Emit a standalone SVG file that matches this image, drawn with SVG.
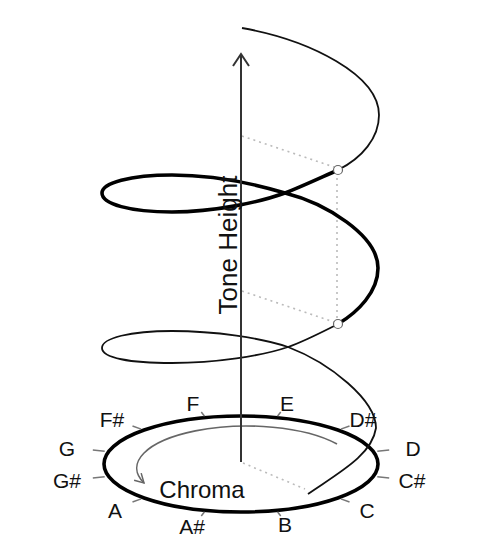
<svg xmlns="http://www.w3.org/2000/svg" width="480" height="560" viewBox="0 0 480 560">
<defs>
<style>
.lbl{font-family:"Liberation Sans",Arial,sans-serif;font-size:21px;fill:#111;text-anchor:middle}
.tick{stroke:#777;stroke-width:1.5;fill:none}
.dot{stroke:#bbb;stroke-width:1.6;stroke-dasharray:2 4;fill:none}
.thin{stroke:#111;stroke-width:1.8;fill:none}
.thick{stroke:#000;stroke-width:3.6;fill:none}
.mark{stroke:#666;stroke-width:1.2;fill:#fff}
</style>
<marker id="gh" viewBox="0 0 12 12" refX="10" refY="6" markerWidth="12" markerHeight="12" markerUnits="userSpaceOnUse" orient="auto">
<path d="M1,1 L10,6 L1,11" fill="none" stroke="#666" stroke-width="1.5"/>
</marker>
</defs>
<rect width="480" height="560" fill="#fff"/>
<g id="guides">
<line class="dot" x1="242" y1="136" x2="337" y2="168"/>
<line class="dot" x1="242" y1="291" x2="337" y2="323"/>
<line class="dot" x1="337" y1="172" x2="337" y2="320"/>
<line class="dot" x1="243" y1="463" x2="305" y2="489"/>
</g>
<g id="chroma-circle">
<ellipse cx="241" cy="464" rx="137" ry="48" fill="none" stroke="#000" stroke-width="3.6"/>
<path d="M337,444 A110,42 0 0 0 144,483" fill="none" stroke="#666" stroke-width="1.6" marker-end="url(#gh)"/>
<text class="lbl" x="202" y="498" style="font-size:24px">Chroma</text>
</g>
<g id="ticks">
<line class="tick" x1="377.3" y1="451.2" x2="389.2" y2="450.1"/>
<line class="tick" x1="377.3" y1="476.8" x2="389.2" y2="477.9"/>
<line class="tick" x1="340.8" y1="498.9" x2="349.5" y2="502"/>
<line class="tick" x1="277.5" y1="511.7" x2="280.7" y2="516"/>
<line class="tick" x1="204.5" y1="511.7" x2="201.3" y2="516"/>
<line class="tick" x1="141.2" y1="498.9" x2="132.5" y2="502"/>
<line class="tick" x1="104.7" y1="476.8" x2="92.8" y2="477.9"/>
<line class="tick" x1="104.7" y1="451.2" x2="92.8" y2="450.1"/>
<line class="tick" x1="141.2" y1="429.1" x2="132.5" y2="426"/>
<line class="tick" x1="204.5" y1="416.3" x2="201.3" y2="412"/>
<line class="tick" x1="277.5" y1="416.3" x2="280.7" y2="412"/>
<line class="tick" x1="340.8" y1="429.1" x2="349.5" y2="426"/>
</g>
<g id="labels">
<text class="lbl" x="413" y="456">D</text>
<text class="lbl" x="412" y="488">C#</text>
<text class="lbl" x="367" y="518">C</text>
<text class="lbl" x="285" y="532">B</text>
<text class="lbl" x="192" y="534">A#</text>
<text class="lbl" x="115" y="518">A</text>
<text class="lbl" x="67" y="488">G#</text>
<text class="lbl" x="67" y="456">G</text>
<text class="lbl" x="112" y="427">F#</text>
<text class="lbl" x="193" y="411">F</text>
<text class="lbl" x="287" y="411">E</text>
<text class="lbl" x="363" y="427">D#</text>
</g>
<g id="helix">
<path class="thin" d="M308,494 C340,472 372,455 376,428 C376,400 330,363 288,347 C262,338 215,331 172,331 C130,331 102,338 102,348 C102,358 130,363 172,363 C215,363 262,356 288,347 C305,341 322,332 338,324"/>
<path class="thick" d="M338,324 C358,312 378,292 378,268 C378,235 325,203 285,193 C255,184 215,175 172,175 C130,175 102,183 102,193 C102,204 130,212 172,212 C215,212 260,202 285,193 C303,186 322,177 338,170"/>
<path class="thin" d="M338,170 C362,158 379,138 379,115 C379,75 310,40 242,28"/>
<circle class="mark" cx="338" cy="170" r="4.5"/>
<circle class="mark" cx="338" cy="324" r="4.5"/>
</g>
<g id="axis">
<line x1="241" y1="462" x2="241" y2="55" stroke="#333" stroke-width="2"/>
<path d="M233,66 L241,54 L249,66" fill="none" stroke="#333" stroke-width="2"/>
<text class="lbl" transform="translate(237,245) rotate(-90)" style="font-size:26px">Tone Height</text>
</g>
</svg>
